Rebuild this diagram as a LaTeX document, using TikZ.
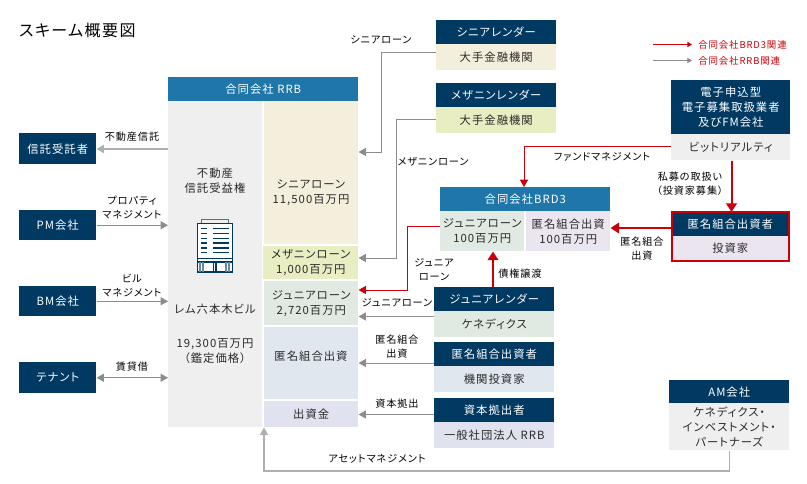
\documentclass[tikz,border=0pt]{standalone}
\usepackage{fontspec}
\setmainfont[LetterSpace=9, RawFeature={+palt}]{Noto Sans CJK JP}
\usetikzlibrary{arrows.meta}
\definecolor{navy}{HTML}{003A63}
\definecolor{rrbblue}{HTML}{1F76A8}
\definecolor{palegray}{HTML}{EFEFEF}
\definecolor{senior}{HTML}{F4EFDC}
\definecolor{mezz}{HTML}{E8EDC2}
\definecolor{junior}{HTML}{E1EAE2}
\definecolor{anon}{HTML}{E0E7EF}
\definecolor{capital}{HTML}{E0E2EF}
\definecolor{lilac}{HTML}{EBE5F0}
\definecolor{flowred}{HTML}{C8000A}
\definecolor{flowgray}{HTML}{8C8C8C}
\definecolor{ink}{HTML}{2A2A2A}
\tikzset{
	box/.style={anchor=north west, inner sep=0pt, align=center, minimum width=#1*0.75pt, text=ink, font=\fontsize{8.5}{11.2}\selectfont},
	hh/.style={minimum height=#1*0.75pt},
	headbox/.style={box=#1, fill=navy, text=white},
	titlebox/.style={box=#1, fill=rrbblue, text=white},
	boxtext/.style={inner sep=0pt, align=center, text=ink, font=\fontsize{8.5}{11.2}\selectfont},
	flowtext/.style={inner sep=0pt, align=center, text=black, font=\fontsize{7.6}{10.5}\selectfont},
	legendtext/.style={inner sep=0pt, anchor=west, text=flowred, font=\fontsize{7.1}{9}\selectfont},
	grayflow/.style={-{Triangle[length=5.5pt,width=6pt]}, draw=flowgray, line width=0.7pt},
	redflow/.style={-{Triangle[length=5.5pt,width=6pt]}, draw=flowred, line width=0.7pt},
	bigflow/.style={-{Triangle[length=6.5pt,width=8pt]}, draw=flowred, line width=1.5pt},
	iconline/.style={draw=navy, line width=0.9pt},
}
\begin{document}
\begin{tikzpicture}[x=0.75pt, y=-0.75pt]
	\useasboundingbox (0,0) rectangle (807,484);
	\node [anchor=west, inner sep=0pt, font=\fontsize{12}{14}\selectfont] (title) at (19,30) {スキーム概要図};

	% legend
	\coordinate (legredstart) at (653,44.5);
	\coordinate (legredend) at (692,44.5);
	\coordinate (leggraystart) at (653,60.5);
	\coordinate (leggrayend) at (692,60.5);
	\draw [-{Triangle[length=3.5pt,width=4pt]}, draw=flowred, line width=0.7pt] (legredstart) -- (legredend);
	\draw [-{Triangle[length=3.5pt,width=4pt]}, draw=flowgray, line width=0.6pt] (leggraystart) -- (leggrayend);
	\node [legendtext] (legred) at (698,44.5) {合同会社BRD3関連};
	\node [legendtext] (leggray) at (698,60.5) {合同会社RRB関連};

	% left parties
	\node [headbox=77, hh=31] (trustee) at (19,133) {信託受託者};
	\node [headbox=77, hh=30] (pm) at (19,210) {PM会社};
	\node [headbox=77, hh=30] (bm) at (19,286) {BM会社};
	\node [headbox=77, hh=31] (tenant) at (19,362) {テナント};

	% RRB
	\node [titlebox=190, hh=24] (rrb) at (168,77) {合同会社 RRB};
	\node [box=94, hh=326, fill=palegray] (asset) at (168,101) {};
	\node [box=94, hh=143, fill=senior] (seniorloan) at (264,101) {};
	\node [box=95, hh=33, fill=mezz] (mezzloan) at (263,246) {メザニンローン\\1,000百万円};
	\node [box=94, hh=44, fill=junior] (juniorloan) at (264,281) {ジュニアローン\\2,720百万円};
	\node [box=94, hh=72, fill=anon] (anonloan) at (264,327) {};
	\node [box=94, hh=26, fill=capital] (capitalin) at (264,401) {出資金};
	\node [boxtext] (seniortext) at (311,192.5) {シニアローン\\11,500百万円};
	\node [boxtext] (anontext) at (311,356) {匿名組合出資};
	\node [boxtext] (trustright) at (215,180.5) {不動産\\信託受益権};
	\node [boxtext] (building) at (215,309) {レム六本木ビル};
	\node [boxtext] (value) at (215,351.5) {19,300百万円\\（鑑定価格）};

	% building icon
	\draw [draw=navy!70, line width=0.9pt] (201.5,223) -- (201.5,219.5) -- (228.5,219.5) -- (228.5,223);
	\draw [draw=navy, line width=1pt, fill=white] (197.5,223.5) rectangle (232.5,272);
	\foreach \y in {228.5,233.5,238.5,243,248,252.5} {
		\draw [iconline] (201,\y) -- (207,\y);
		\draw [iconline] (213,\y) -- (229,\y);
	}
	\draw [iconline] (197.5,258.5) -- (232.5,258.5);
	\draw [iconline] (197.5,262) -- (232.5,262);
	\foreach \x in {200,203,226,229} {
		\draw [draw=navy!60, line width=1pt] (\x,262) -- (\x,272);
	}
	\foreach \x in {213.5,216} {
		\draw [iconline] (\x,262) -- (\x,272);
	}

	% lenders
	\node [headbox=120, hh=24] (seniorhead) at (436,20) {シニアレンダー};
	\node [box=120, hh=26, fill=senior] (seniorbody) at (436,44) {大手金融機関};
	\node [headbox=120, hh=24] (mezzhead) at (436,83) {メザニンレンダー};
	\node [box=120, hh=26, fill=mezz] (mezzbody) at (436,107) {大手金融機関};

	% BRD3
	\node [titlebox=170, hh=24] (brd) at (440,187) {合同会社BRD3};
	\node [box=84, hh=40, fill=junior] (brdjunior) at (440,211) {ジュニアローン\\100百万円};
	\node [box=84, hh=40, fill=lilac] (brdanon) at (526,211) {匿名組合出資\\100百万円};

	% right side
	\node [headbox=119, hh=54] (denshihead) at (671,80) {電子申込型\\電子募集取扱業者\\及びFM会社};
	\node [box=119, hh=26, fill=palegray] (denshibody) at (671,134) {ビットリアルティ};
	\node [headbox=116, hh=24] (investorhead) at (672,212) {匿名組合出資者};
	\node [box=116, hh=24, fill=lilac] (investorbody) at (672,236) {投資家};
	\draw [draw=flowred, line width=1.5pt] (investorhead.north west) rectangle (investorbody.south east);
	\node [headbox=120, hh=23] (amhead) at (669,380) {AM会社};
	\node [box=120, hh=47, fill=palegray] (ambody) at (669,403) {ケネディクス・\\インベストメント・\\パートナーズ};

	% junior etc.
	\node [headbox=120, hh=24] (juniorhead) at (434,287) {ジュニアレンダー};
	\node [box=120, hh=26, fill=junior] (juniorbody) at (434,311) {ケネディクス};
	\node [headbox=120, hh=24] (anonhead) at (434,342) {匿名組合出資者};
	\node [box=120, hh=26, fill=anon] (anonbody) at (434,366) {機関投資家};
	\node [headbox=120, hh=24] (capitalhead) at (434,398) {資本拠出者};
	\node [box=120, hh=26, fill=capital] (capitalbody) at (434,422) {一般社団法人 RRB};

	% flows
	\draw [grayflow, line width=1pt, draw=flowgray!70] (asset.west |- 0,149) -- (trustee.east |- 0,149);
	\draw [grayflow] (pm) -- (asset.west |- pm);
	\draw [grayflow] (bm) -- (asset.west |- bm);
	\draw [grayflow, {Triangle[length=5.5pt,width=6pt]}-{Triangle[length=5.5pt,width=6pt]}] (tenant) -- (asset.west |- tenant);
	\draw [grayflow] (seniorbody.west |- 0,52.5) -- (381,52.5) -- (381,152) -- (seniorloan.east |- 0,152);
	\draw [grayflow] (mezzbody.west |- 0,119) -- (396,119) -- (396,258) -- (mezzloan.east |- 0,258);
	\draw [grayflow] (juniorbody.west |- 0,316.5) -- (juniorloan.east |- 0,316.5);
	\draw [grayflow] (anonbody.west |- 0,363) -- (anonloan.east |- 0,363);
	\draw [grayflow] (capitalbody.west |- 0,414.5) -- (capitalin.east |- 0,414.5);
	\draw [grayflow, line width=1pt, draw=flowgray!70] (ambody.south) -- (ambody.south |- 0,471) -- (264,471) -- (capitalin.south west);
	\draw [redflow] (brdjunior.west |- 0,226) -- (407,226) -- (407,290) -- (juniorloan.east |- 0,290);
	\draw [redflow] (denshibody.west |- 0,146) -- (524,146) -- (524,187);
	\draw [bigflow] (denshibody.south -| 731.5,0) -- (investorhead.north -| 731.5,0);
	\draw [bigflow] (investorhead.west |- 0,228) -- (brdanon.east |- 0,228);
	\draw [bigflow] (juniorhead.north -| 493,0) -- (brdjunior.south -| 493,0);

	% labels
	\node [flowtext] (lbsenior) at (381,40) {シニアローン};
	\node [flowtext] (lbmezz) at (433,162) {メザニンローン};
	\node [flowtext] (lbfund) at (602,157) {ファンドマネジメント};
	\node [flowtext] (lbprivate) at (690,183.5) {私募の取扱い\\（投資家募集）};
	\node [flowtext] (lbanon) at (642,249) {匿名組合\\出資};
	\node [flowtext] (lbjunior) at (434,270) {ジュニア\\ローン};
	\node [flowtext] (lbjunior2) at (397,303) {ジュニアローン};
	\node [flowtext] (lbtransfer) at (520,274) {債権譲渡};
	\node [flowtext] (lbanon2) at (397,347) {匿名組合\\出資};
	\node [flowtext] (lbcapital) at (397,404) {資本拠出};
	\node [flowtext] (lbam) at (377,459) {アセットマネジメント};
	\node [flowtext] (lbtrust) at (132,137) {不動産信託};
	\node [flowtext] (lbprop) at (132,208) {プロパティ\\マネジメント};
	\node [flowtext] (lbbm) at (132,286) {ビル\\マネジメント};
	\node [flowtext] (lbrent) at (132,367) {賃貸借};
\end{tikzpicture}
\end{document}
